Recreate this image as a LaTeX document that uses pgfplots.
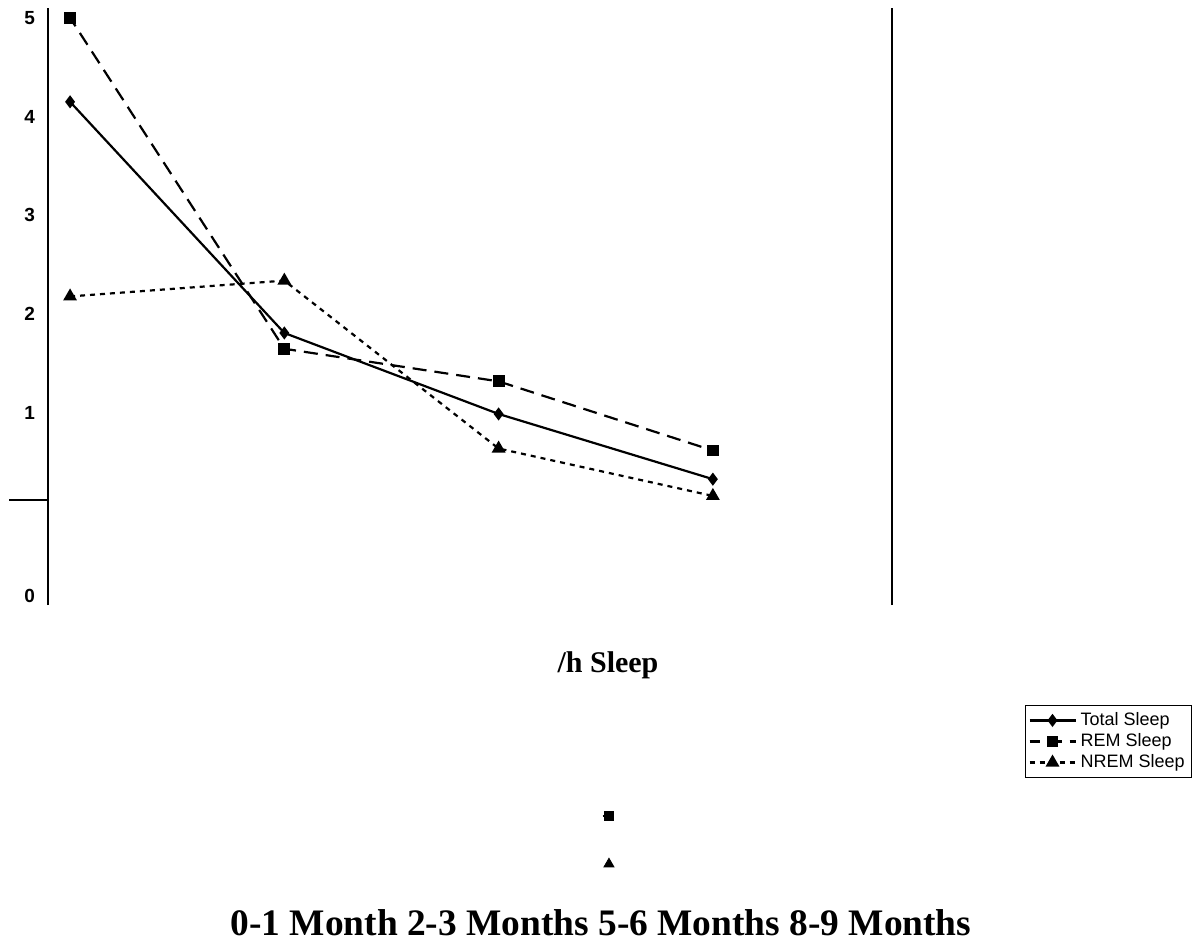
\documentclass[border=0pt]{standalone}
\usepackage{pgfplots}
\pgfplotsset{compat=1.18}
\usepackage{fontspec}
\setmainfont{Liberation Serif}
\newfontfamily\arial{Liberation Sans}

\begin{document}
\begin{tikzpicture}
\begin{axis}[
  name=ax,
  scale only axis,
  width=422pt, height=298.5pt,
  xmin=-0.103, xmax=3.836,
  ymin=-0.944, ymax=5.10,
  clip=false,
  axis line style={draw=none},
  xtick=\empty,
  ytick={-0.853,1,2,3,4,5},
  yticklabels={0,1,2,3,4,5},
  major tick length=0pt,
  yticklabel style={font=\arial\bfseries\fontsize{9.5}{10}\selectfont, xshift=-3pt},
  legend style={at={(1.1576,-0.1675)}, anchor=north west, draw=black, line width=0.4pt,
    font=\arial\fontsize{9}{10}\selectfont, row sep=-1.5pt, inner sep=1.5pt},
  legend cell align=left,
  legend image code/.code={
    \draw[mark repeat=2, mark phase=2, #1] plot coordinates {(0pt,0pt) (11.5pt,0pt) (23pt,0pt)};
  },
]

\addplot[black, line width=1.1pt, mark=diamond*, mark size=2.4pt, mark options={solid}]
  coordinates {(0,4.15) (1,1.81) (2,0.99) (3,0.33)};
\addlegendentry{Total Sleep}
\addplot[black, line width=1.1pt, dash pattern=on 7pt off 4pt, dash phase=2pt, mark=square*, mark size=2.4pt, mark options={solid}]
  coordinates {(0,5.0) (1,1.65) (2,1.32) (3,0.62)};
\addlegendentry{REM Sleep}
\addplot[black, line width=1.1pt, dash pattern=on 2.5pt off 2.5pt, mark=triangle*, mark size=2.9pt, mark options={solid}]
  coordinates {(0,2.18) (1,2.34) (2,0.64) (3,0.16)};
\addlegendentry{NREM Sleep}

% stray marks below the chart
\addplot[forget plot, black, line width=1.1pt] coordinates {(2.485,-3.08) (2.515,-3.08)};
\addplot[forget plot, only marks, black, mark=square*, mark size=2.4pt] coordinates {(2.515,-3.08)};
\addplot[forget plot, only marks, black, mark=triangle*, mark size=2.9pt] coordinates {(2.515,-3.567)};

% axis lines
\draw[line width=1.4pt] (rel axis cs:0,0) -- (rel axis cs:0,1);
\draw[line width=1.4pt] (rel axis cs:1,0) -- (rel axis cs:1,1);
\draw[line width=1.4pt] (rel axis cs:0,0.176) -- ++(-19.5pt,0pt);

\node[font=\bfseries\fontsize{15}{18}\selectfont] at ([shift={(280pt,-30pt)}]rel axis cs:0,0) {/h Sleep};
\node[font=\bfseries\fontsize{18.7}{22}\selectfont] at ([shift={(276.5pt,-159pt)}]rel axis cs:0,0) {0-1 Month 2-3 Months 5-6 Months 8-9 Months};
\end{axis}
\useasboundingbox ([shift={(-24pt,-166.5pt)}]ax.south west) rectangle ++(599pt,469pt);
\end{tikzpicture}
\end{document}
